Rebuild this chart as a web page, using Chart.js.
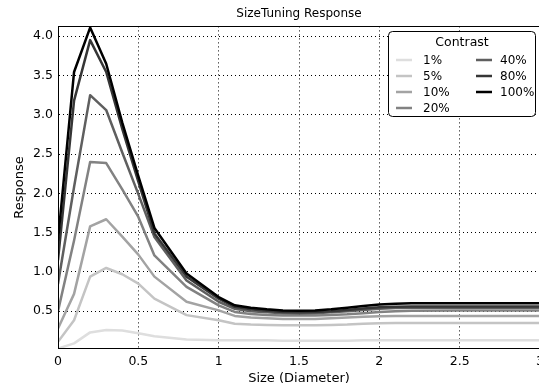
<!DOCTYPE html>
<html>
<head>
<meta charset="utf-8">
<script src="https://cdn.jsdelivr.net/npm/chart.js@4/dist/chart.umd.min.js"></script>
<style>
  html, body { margin: 0; padding: 0; background: #fff; overflow: hidden; }
  #wrap { width: 539px; height: 387px; overflow: hidden; position: relative; }
  canvas { display: block; }
</style>
</head>
<body>
<div id="wrap"><canvas id="c" width="560" height="387" style="width:560px;height:387px"></canvas></div>
<script>
// Stimulus sizes (diameter) and mean response per contrast level
const sizes = [0, 0.1, 0.2, 0.3, 0.4, 0.5, 0.6, 0.8, 1.0, 1.1, 1.2, 1.3, 1.4, 1.5, 1.6, 1.7, 1.8, 1.9, 2.0, 2.1, 2.2, 2.5, 3.0];

const contrastLabels = ['1%', '5%', '10%', '20%', '40%', '80%', '100%'];

const response1   = [0.025, 0.09, 0.23, 0.26, 0.255, 0.22, 0.18, 0.14, 0.13, 0.13, 0.13, 0.13, 0.125, 0.125, 0.125, 0.125, 0.125, 0.13, 0.13, 0.13, 0.13, 0.13, 0.13];
const response5   = [0.11, 0.385, 0.94, 1.05, 0.97, 0.85, 0.66, 0.45, 0.385, 0.34, 0.33, 0.325, 0.32, 0.32, 0.32, 0.325, 0.33, 0.34, 0.345, 0.35, 0.35, 0.35, 0.35];
const response10  = [0.28, 0.72, 1.58, 1.67, 1.45, 1.22, 0.94, 0.62, 0.51, 0.44, 0.42, 0.41, 0.40, 0.40, 0.40, 0.41, 0.42, 0.43, 0.435, 0.44, 0.44, 0.44, 0.44];
const response20  = [0.5, 1.4, 2.40, 2.385, 2.05, 1.70, 1.21, 0.81, 0.575, 0.49, 0.465, 0.45, 0.445, 0.445, 0.445, 0.45, 0.46, 0.475, 0.49, 0.50, 0.505, 0.51, 0.51];
const response40  = [0.85, 2.08, 3.25, 3.06, 2.52, 1.99, 1.445, 0.89, 0.62, 0.53, 0.50, 0.485, 0.475, 0.47, 0.475, 0.485, 0.50, 0.515, 0.53, 0.54, 0.545, 0.545, 0.545];
const response80  = [1.15, 3.18, 3.95, 3.545, 2.82, 2.15, 1.49, 0.94, 0.66, 0.555, 0.525, 0.505, 0.49, 0.485, 0.49, 0.50, 0.515, 0.535, 0.55, 0.555, 0.56, 0.56, 0.56];
const response100 = [1.4, 3.545, 4.11, 3.65, 2.90, 2.22, 1.56, 0.98, 0.68, 0.575, 0.545, 0.525, 0.51, 0.505, 0.51, 0.525, 0.545, 0.565, 0.585, 0.595, 0.60, 0.60, 0.60];

const xTicks = [0, 0.5, 1, 1.5, 2, 2.5, 3];
const yTicks = [0.5, 1.0, 1.5, 2.0, 2.5, 3.0, 3.5, 4.0];

// Grey ramp: light for low contrast, black for full contrast
const greys = ['#dedede', '#c4c4c4', '#a3a3a3', '#828282', '#5f5f5f', '#363636', '#000000'];

const allResponses = [response1, response5, response10, response20, response40, response80, response100];

const datasets = allResponses.map((vals, i) => ({
  label: contrastLabels[i],
  data: vals.map((v, k) => ({ x: sizes[k], y: v })),
  borderColor: greys[i],
  backgroundColor: greys[i],
  borderWidth: 2.5,
  pointRadius: 0,
  tension: 0,
  fill: false,
  borderJoinStyle: 'round',
  borderCapStyle: 'round',
  order: allResponses.length - i
}));

const FONT = 'DejaVu Sans';
Chart.defaults.font.family = FONT;
Chart.defaults.font.size = 12;
Chart.defaults.color = '#000';

// Solid frame around the plotting area
const frame = {
  id: 'frame',
  afterDatasetsDraw(chart) {
    const a = chart.chartArea, ctx = chart.ctx;
    ctx.save();
    ctx.strokeStyle = '#000';
    ctx.lineWidth = 1;
    ctx.strokeRect(Math.round(a.left) + 0.5, Math.round(a.top) + 0.5,
                   Math.round(a.right - a.left), Math.round(a.bottom - a.top));
    ctx.restore();
  }
};

// Two-column legend box with a heading, filled column by column
const contrastLegend = {
  id: 'contrastLegend',
  afterDraw(chart) {
    const ctx = chart.ctx;
    const bx = 388.5, by = 31.5, bw = 147, bh = 85, r = 4;
    ctx.save();
    ctx.beginPath();
    ctx.moveTo(bx + r, by);
    ctx.lineTo(bx + bw - r, by);
    ctx.arcTo(bx + bw, by, bx + bw, by + r, r);
    ctx.lineTo(bx + bw, by + bh - r);
    ctx.arcTo(bx + bw, by + bh, bx + bw - r, by + bh, r);
    ctx.lineTo(bx + r, by + bh);
    ctx.arcTo(bx, by + bh, bx, by + bh - r, r);
    ctx.lineTo(bx, by + r);
    ctx.arcTo(bx, by, bx + r, by, r);
    ctx.closePath();
    ctx.fillStyle = '#fff';
    ctx.fill();
    ctx.strokeStyle = '#000';
    ctx.lineWidth = 1;
    ctx.stroke();

    ctx.fillStyle = '#000';
    ctx.textAlign = 'center';
    ctx.textBaseline = 'middle';
    ctx.font = '12.5px "' + FONT + '"';
    ctx.fillText('Contrast', 462, 43);

    const perCol = 4;
    const cols = [{ lx: 396, lw: 16, tx: 423 }, { lx: 476, lw: 16, tx: 500 }];
    const rowY = [60, 76, 92, 108];
    ctx.textAlign = 'left';
    ctx.font = '12px "' + FONT + '"';
    chart.data.datasets.forEach((ds, i) => {
      const c = cols[Math.floor(i / perCol)];
      const y = rowY[i % perCol];
      ctx.strokeStyle = ds.borderColor;
      ctx.lineWidth = 2.5;
      ctx.beginPath();
      ctx.moveTo(c.lx, y);
      ctx.lineTo(c.lx + c.lw, y);
      ctx.stroke();
      ctx.fillStyle = '#000';
      ctx.fillText(ds.label, c.tx, y + 0.5);
    });
    ctx.restore();
  }
};

new Chart(document.getElementById('c'), {
  type: 'line',
  data: { datasets },
  plugins: [frame, contrastLegend],
  options: {
    responsive: false,
    animation: false,
    devicePixelRatio: 1,
    layout: { padding: { left: 0, right: 20, top: 0, bottom: 0 } },
    plugins: {
      legend: { display: false },
      tooltip: { enabled: false },
      title: {
        display: true,
        text: 'SizeTuning Response',
        fullSize: false,
        color: '#000',
        font: { family: FONT, size: 12, weight: 'normal' },
        padding: { top: 7, bottom: 5 }
      }
    },
    scales: {
      x: {
        type: 'linear',
        min: 0,
        max: 3,
        afterBuildTicks: s => { s.ticks = xTicks.map(v => ({ value: v })); },
        afterFit: s => { s.height = 38.5; },
        ticks: {
          padding: 6,
          maxRotation: 0,
          autoSkip: false,
          callback: v => String(v),
          font: { family: FONT, size: 12.5 }
        },
        grid: { color: '#000', lineWidth: 1, drawTicks: false },
        border: { display: true, color: '#000', width: 1, dash: [1, 3] },
        title: {
          display: true,
          text: 'Size (Diameter)',
          font: { family: FONT, size: 13 },
          padding: { top: 0, bottom: 1 }
        }
      },
      y: {
        type: 'linear',
        min: 0.025,
        max: 4.125,
        afterBuildTicks: s => { s.ticks = yTicks.map(v => ({ value: v })); },
        afterFit: s => { s.width = 58; },
        ticks: {
          padding: 5,
          autoSkip: false,
          callback: v => Number(v).toFixed(1),
          font: { family: FONT, size: 12.5 }
        },
        grid: { color: '#000', lineWidth: 1, drawTicks: false },
        border: { display: true, color: '#000', width: 1, dash: [1, 3] },
        title: {
          display: true,
          text: 'Response',
          font: { family: FONT, size: 13 },
          padding: { top: 11.5, bottom: 0 }
        }
      }
    }
  }
});
</script>
</body>
</html>
